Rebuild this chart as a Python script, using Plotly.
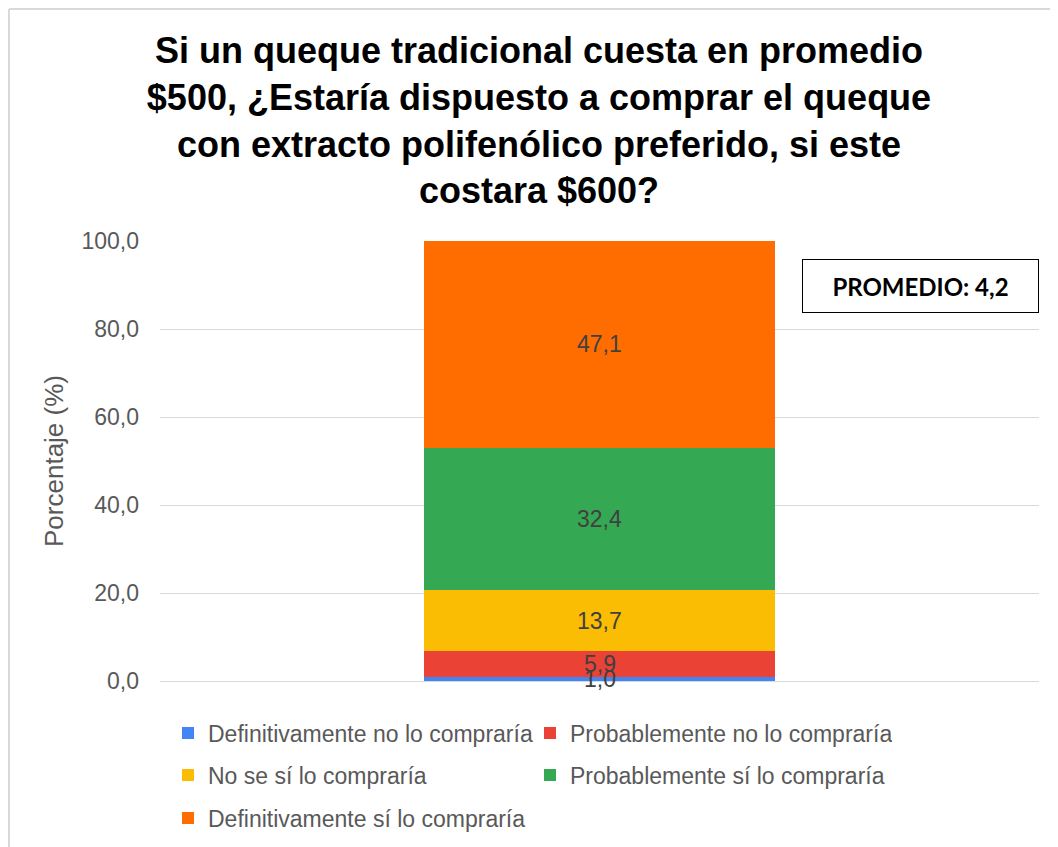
import plotly.graph_objects as go

# ---- data ----
category = ["Queque"]
series_names = [
    "Definitivamente no lo compraría",
    "Probablemente no lo compraría",
    "No se sí lo compraría",
    "Probablemente sí lo compraría",
    "Definitivamente sí lo compraría",
]
series_values = [1.0, 5.9, 13.7, 32.4, 47.1]
series_colors = ["#4285F4", "#EA4335", "#FBBC04", "#34A853", "#FF6D01"]
series_legend = ["legend", "legend", "legend2", "legend2", "legend3"]
y_ticks = [0, 20, 40, 60, 80, 100]
title_text = ("Si un queque tradicional cuesta en promedio<br>"
              "$500, ¿Estaría dispuesto a comprar el queque<br>"
              "con extracto polifenólico preferido, si este<br>"
              "costara $600?")
avg_text = "PROMEDIO: 4,2"

# page body adds an 8px offset; figure coords = screen coords - 8
OFF = 8
W, H = 1058 - OFF, 847 - OFF
L = 160 - OFF
R = W - (1039 - OFF)
T = 241 - OFF
B = H - (681 - OFF)
plot_w = W - L - R
plot_h = H - T - B

def px_x(sx):
    return (sx - OFF - L) / plot_w

def px_y(sy):
    return (H - B - (sy - OFF)) / plot_h

fig = go.Figure()
for name, val, col, lg in zip(series_names, series_values, series_colors, series_legend):
    fig.add_trace(go.Bar(
        x=category, y=[val], name=name,
        marker=dict(color=col, line=dict(width=0)),
        legend=lg, hoverinfo="name+y",
    ))

# data labels centred in each stacked segment
base = 0.0
for val in series_values:
    fig.add_annotation(
        x=category[0], y=base + val / 2, xref="x", yref="y",
        text=f"{val:.1f}".replace(".", ","), showarrow=False,
        font=dict(size=23, color="#404040", family="Liberation Sans, Arial"),
        xanchor="center", yanchor="middle",
    )
    base += val

leg_common = dict(
    orientation="h", xanchor="left", yanchor="middle",
    x=(160 - L) / plot_w, entrywidth=317, entrywidthmode="pixels",
    font=dict(size=23, color="#595959", family="Liberation Sans, Arial"),
    bgcolor="rgba(0,0,0,0)", borderwidth=0, itemwidth=30, traceorder="normal",
)

fig.update_layout(
    width=W, height=H,
    margin=dict(l=L, r=R, t=T, b=B, autoexpand=False),
    paper_bgcolor="white", plot_bgcolor="white",
    separators=",.",
    barmode="stack", bargap=0.6,
    font=dict(family="Liberation Sans, Arial", color="#595959"),
    title=dict(
        text=title_text, x=(539 - OFF) / W, xanchor="center",
        y=1 - 55 / H, yanchor="top", yref="container",
        font=dict(size=36, color="black", family="Liberation Sans, Arial", weight="bold"),
    ),
    xaxis=dict(showticklabels=False, showgrid=False, zeroline=False, showline=False, ticks=""),
    yaxis=dict(
        range=[0, 100], tickvals=y_ticks, tickformat=".1f",
        showgrid=True, gridcolor="#d9d9d9", gridwidth=1,
        zeroline=True, zerolinecolor="#d9d9d9", zerolinewidth=1,
        showline=False, ticks="", ticklabelstandoff=20,
        tickfont=dict(size=23, color="#595959"),
        title=dict(text="Porcentaje (%)", font=dict(size=26, color="#595959"), standoff=10),
    ),
    legend=dict(leg_common, y=px_y(733)),
    legend2=dict(leg_common, y=px_y(775)),
    legend3=dict(leg_common, y=px_y(818)),
    showlegend=True,
)

fig.add_annotation(
    text="<b>" + avg_text + "</b>", xref="paper", yref="paper",
    x=px_x(1039), y=px_y(259), xanchor="right", yanchor="top",
    showarrow=False, width=233, height=50, align="center", valign="middle",
    bordercolor="black", borderwidth=1, borderpad=1, bgcolor="white",
    font=dict(size=24, color="black", family="Lato"),
)

# outer frame lines (top and left)
fig.add_shape(type="line", xref="paper", yref="paper",
              x0=px_x(9), x1=px_x(1080), y0=px_y(9), y1=px_y(9),
              line=dict(color="#d9d9d9", width=2))
fig.add_shape(type="line", xref="paper", yref="paper",
              x0=px_x(9), x1=px_x(9), y0=px_y(9), y1=px_y(880),
              line=dict(color="#d9d9d9", width=2))

fig.write_html("out.html")
